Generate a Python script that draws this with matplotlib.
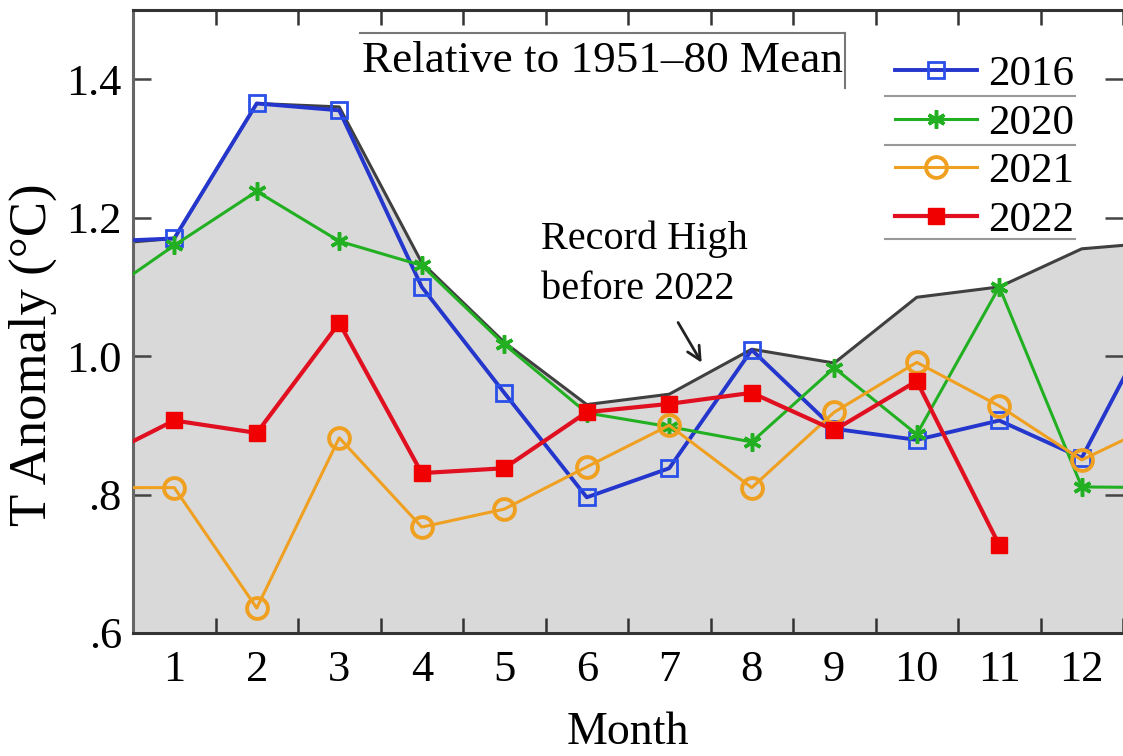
import matplotlib
matplotlib.use("Agg")
from matplotlib import pyplot as plt
import numpy as np

plt.rcParams['font.family'] = ['Liberation Serif', 'DejaVu Serif']
plt.rcParams['mathtext.fontset'] = 'stix'

# months 0 (previous Dec) .. 13 (next Jan), lines run off both edges
months = np.arange(0, 14)
record_high = [1.16, 1.17, 1.365, 1.36, 1.135, 1.02, 0.93, 0.945, 1.01, 0.99, 1.085, 1.10, 1.155, 1.165]
y2016 = [1.165, 1.17, 1.365, 1.355, 1.10, 0.947, 0.796, 0.838, 1.009, 0.895, 0.879, 0.907, 0.853, 1.08]
y2020 = [1.077, 1.16, 1.238, 1.166, 1.131, 1.017, 0.918, 0.898, 0.876, 0.983, 0.887, 1.10, 0.811, 0.81]
y2021 = [0.81, 0.81, 0.636, 0.882, 0.753, 0.779, 0.84, 0.90, 0.81, 0.919, 0.991, 0.928, 0.85, 0.907]
months_2022 = np.arange(0, 12)
y2022 = [0.847, 0.907, 0.889, 1.048, 0.831, 0.838, 0.919, 0.931, 0.947, 0.893, 0.964, 0.727]

month_labels = [str(m) for m in range(1, 13)]
ytick_vals = [0.6, 0.8, 1.0, 1.2, 1.4]
ytick_labels = ['.6', '.8', '1.0', '1.2', '1.4']

fig = plt.figure(figsize=(11.23, 7.56), dpi=100)
ax = fig.add_axes([133 / 1123, 123 / 756, 990 / 1123, 623 / 756])

# record high shading
ax.fill_between(months, record_high, 0.0, color='#d9d9d9', lw=0, zorder=1)
ax.plot(months, record_high, color='#404040', lw=2.2, zorder=2)

ax.plot(months, y2016, color='#2436cc', lw=2.8, marker='s', ms=11, mfc='none',
        mec='#2a4fe8', mew=2.0, label='2016', zorder=3)
ax.plot(months, y2020, color='#22b022', lw=2.2, marker=(6, 2, 0), ms=13,
        mec='#22b022', mew=2.5, label='2020', zorder=4)
ax.plot(months, y2021, color='#f0a020', lw=2.2, marker='o', ms=15, mfc='none',
        mec='#f0a020', mew=2.8, label='2021', zorder=5)
ax.plot(months_2022, y2022, color='#e01020', lw=3.0, marker='s', ms=12,
        mfc='#f00000', mec='#f00000', label='2022', zorder=6)

ax.set_xlim(0.5, 12.5)
ax.set_ylim(0.6, 1.5)

ax.set_xticks(range(1, 13))
ax.set_xticklabels(month_labels)
ax.set_xticks(np.arange(0.5, 13, 1.0), minor=True)
ax.set_yticks(ytick_vals)
ax.set_yticklabels(ytick_labels)

ax.tick_params(axis='x', which='major', length=0, labelsize=32, pad=12)
ax.tick_params(axis='x', which='minor', direction='in', length=11, width=1.8,
               top=True, bottom=True, color='#333333')
ax.tick_params(axis='y', which='major', direction='in', length=13, width=1.8,
               left=True, right=True, labelsize=32, pad=8, color='#444444')

for side in ['top', 'bottom', 'left']:
    ax.spines[side].set_linewidth(2.2)
    ax.spines[side].set_color('#333333')
ax.spines['left'].set_color('#666666')
ax.spines['right'].set_visible(False)

ax.set_xlabel('Month', fontsize=33, labelpad=16)
fig.text(33 / 1123, 1 - 355 / 756, 'T Anomaly (°C)', rotation=90, fontsize=38,
         ha='center', va='center')

# header text with partial frame
ax.text(0.231, 0.918, 'Relative to 1951–80 Mean', transform=ax.transAxes,
        fontsize=32.5, ha='left', va='center', zorder=7)
ax.plot([0.229, 0.719], [0.963, 0.963], transform=ax.transAxes, color='#777777',
        lw=1.5, clip_on=False, zorder=7)
ax.plot([0.719, 0.719], [0.963, 0.875], transform=ax.transAxes, color='#777777',
        lw=1.5, clip_on=False, zorder=7)

# annotation
ax.text(5.45, 1.07, 'Record High\nbefore 2022', fontsize=29,
        ha='left', va='bottom', linespacing=1.45, zorder=7)
ax.annotate('', xy=(7.41, 0.987), xytext=(7.09, 1.052),
            arrowprops=dict(arrowstyle='->', color='#222222', lw=2.0,
                            mutation_scale=24), zorder=7)

leg = ax.legend(loc='upper left', bbox_to_anchor=(0.770, 0.928), frameon=False,
                fontsize=31, handlelength=1.9, handletextpad=0.25,
                labelspacing=0.22, borderaxespad=0, borderpad=0)
leg.set_zorder(8)
for sep_y in [0.862, 0.783, 0.632]:
    ax.plot([0.760, 0.952], [sep_y, sep_y], transform=ax.transAxes,
            color='#999999', lw=1.5, clip_on=False, zorder=8)

fig.savefig('out.png', dpi=100)
plt.close(fig)
